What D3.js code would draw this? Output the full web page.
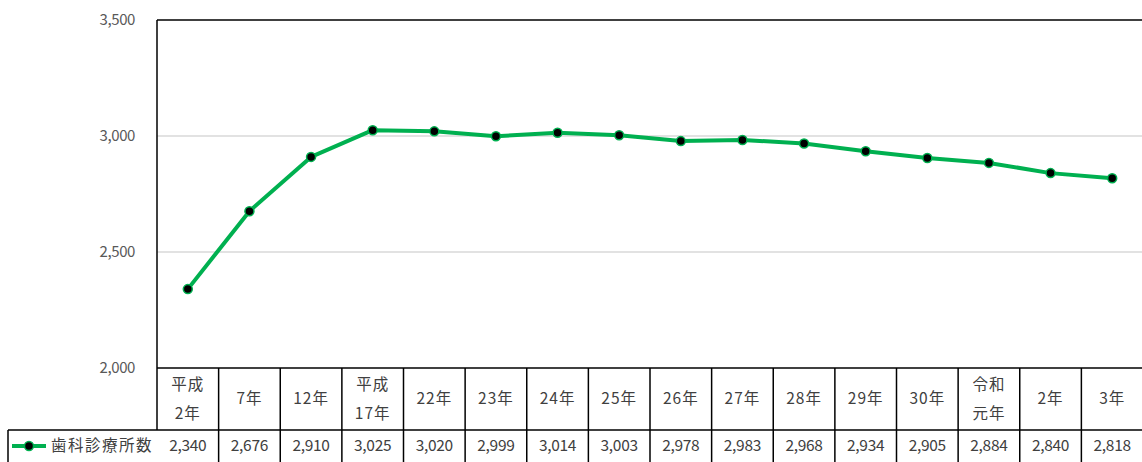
<!DOCTYPE html>
<meta charset="utf-8">
<script src="https://d3js.org/d3.v7.min.js"></script>
<style>
  body { margin: 0; background: #fff; }
  text { font-family: "Noto Sans CJK JP", "Noto Sans", sans-serif; }
</style>
<div id="my_dataviz"></div>
<script>
  // data
  var years = ["平成\n2年", "7年", "12年", "平成\n17年", "22年", "23年", "24年", "25年", "26年",
               "27年", "28年", "29年", "30年", "令和\n元年", "2年", "3年"];
  var clinics = [2340, 2676, 2910, 3025, 3020, 2999, 3014, 3003, 2978, 2983, 2968, 2934, 2905, 2884, 2840, 2818];
  var seriesName = "歯科診療所数";
  var yTicks = [2000, 2500, 3000, 3500];

  var W = 1142, H = 462;
  var plotL = 157, plotR = 1143, plotT = 20, plotB = 368;
  var rowHead = 430, rowEnd = 470;

  var svg = d3.select("#my_dataviz").append("svg")
    .attr("width", W).attr("height", H);

  var x = d3.scaleBand().domain(d3.range(years.length)).range([plotL, plotR]);
  var y = d3.scaleLinear().domain([2000, 3500]).range([plotB, plotT]);

  // gridlines
  svg.append("g").selectAll("line")
    .data(yTicks.filter(function(d){ return d > 2000 && d < 3500; }))
    .enter().append("line")
      .attr("x1", plotL).attr("x2", plotR)
      .attr("y1", function(d){ return y(d); }).attr("y2", function(d){ return y(d); })
      .attr("stroke", "#d9d9d9").attr("stroke-width", 1.5);

  // y axis labels
  svg.append("g").selectAll("text")
    .data(yTicks).enter().append("text")
      .attr("x", 135).attr("y", function(d){ return y(d); })
      .attr("dy", "0.35em").attr("text-anchor", "end")
      .attr("font-size", 15).attr("fill", "#595959")
      .attr("letter-spacing", -0.4)
      .text(function(d){ return d3.format(",")(d); });

  // frame
  svg.append("line").attr("x1", plotL).attr("x2", plotR).attr("y1", plotT).attr("y2", plotT)
    .attr("stroke", "#000").attr("stroke-width", 1.5);
  svg.append("line").attr("x1", plotL).attr("x2", plotL).attr("y1", plotT).attr("y2", rowHead)
    .attr("stroke", "#000").attr("stroke-width", 1.5);

  // line
  var line = d3.line()
    .x(function(d, i){ return x(i) + x.bandwidth() / 2; })
    .y(function(d){ return y(d); });
  svg.append("path").datum(clinics)
    .attr("d", line).attr("fill", "none")
    .attr("stroke", "#00b050").attr("stroke-width", 4).attr("stroke-linejoin", "round");
  svg.append("g").selectAll("circle")
    .data(clinics).enter().append("circle")
      .attr("cx", function(d, i){ return x(i) + x.bandwidth() / 2; })
      .attr("cy", function(d){ return y(d); })
      .attr("r", 4.5).attr("fill", "#000")
      .attr("stroke", "#00b050").attr("stroke-width", 1.5);

  // data table
  var tbl = svg.append("g").attr("stroke", "#000").attr("stroke-width", 1.5);
  tbl.append("line").attr("x1", plotL).attr("x2", plotR).attr("y1", plotB).attr("y2", plotB);
  tbl.append("line").attr("x1", 8).attr("x2", plotR).attr("y1", rowHead).attr("y2", rowHead);
  tbl.append("line").attr("x1", 8).attr("x2", 8).attr("y1", rowHead).attr("y2", rowEnd);
  tbl.selectAll(".vline").data(d3.range(1, years.length)).enter().append("line")
    .attr("x1", function(i){ return x(i); }).attr("x2", function(i){ return x(i); })
    .attr("y1", plotB).attr("y2", rowEnd);

  // header labels
  var hdr = svg.append("g").selectAll("text").data(years).enter().append("text")
    .attr("text-anchor", "middle").attr("font-size", 15.5).attr("fill", "#404040")
    .attr("letter-spacing", 1)
    .attr("x", function(d, i){ return x(i) + x.bandwidth() / 2; });
  hdr.each(function(d){
    var parts = d.split("\n");
    var t = d3.select(this);
    var mid = (plotB + rowHead) / 2;
    parts.forEach(function(p, k){
      t.append("tspan")
        .attr("x", t.attr("x"))
        .attr("y", mid + (k - (parts.length - 1) / 2) * 29)
        .attr("dy", "0.35em")
        .text(p);
    });
  });

  // values row
  svg.append("g").selectAll("text").data(clinics).enter().append("text")
    .attr("x", function(d, i){ return x(i) + x.bandwidth() / 2; })
    .attr("y", 446).attr("dy", "0.35em")
    .attr("text-anchor", "middle").attr("font-size", 15.5).attr("fill", "#404040")
    .attr("letter-spacing", -0.3)
    .text(function(d){ return d3.format(",")(d); });

  // legend key in table
  svg.append("line").attr("x1", 12).attr("x2", 46).attr("y1", 446).attr("y2", 446)
    .attr("stroke", "#00b050").attr("stroke-width", 4);
  svg.append("circle").attr("cx", 29).attr("cy", 446).attr("r", 4.5)
    .attr("fill", "#000").attr("stroke", "#00b050").attr("stroke-width", 1.5);
  svg.append("text").attr("x", 51).attr("y", 446).attr("dy", "0.35em")
    .attr("font-size", 15.5).attr("fill", "#404040").attr("letter-spacing", 1.5)
    .text(seriesName);
</script>
